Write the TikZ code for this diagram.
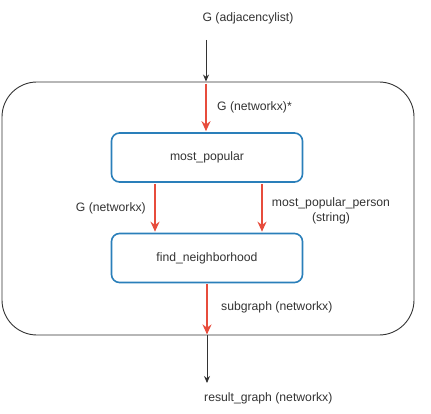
\documentclass[tikz,border=0pt]{standalone}
\usepackage{fontspec}
\setmainfont{Liberation Sans}
\usetikzlibrary{positioning}
\usetikzlibrary{arrows.meta}

\definecolor{flowred}{HTML}{E74C3C}
\definecolor{boxblue}{HTML}{2A7FBA}
\definecolor{txtgray}{HTML}{333333}

\tikzset{
  func/.style={draw=boxblue, line width=1.6pt, rounded corners=8pt,
    minimum width=191pt, minimum height=49pt, text=txtgray,
    font=\fontsize{12.2}{14}\selectfont},
  redflow/.style={draw=flowred, line width=1.8pt, -{Stealth[length=10pt,width=9pt]}},
  ioflow/.style={draw=txtgray, line width=0.9pt, -{Stealth[length=7pt,width=6pt]}},
  lbl/.style={text=txtgray, inner sep=0pt, font=\fontsize{12.2}{14.5}\selectfont}
}

\begin{document}
\begin{tikzpicture}[x=1pt,y=-1pt]
\useasboundingbox (0,0) rectangle (431,414);

% the pipeline box
\node[draw=txtgray, line width=0.9pt, rounded corners=35pt,
  minimum width=412pt, minimum height=253pt] (pipe) at (208,208.5) {};

\node[func] (pop) at (207,157.5) {most\_popular};
\node[func] (hood) at (207,258) {find\_neighborhood};

% input and output
\node[lbl] (gin) at (248,18) {G (adjacencylist)};
\coordinate (gtop) at (206,40);
\node[lbl, anchor=west] (gres) at (204,398) {result\_graph (networkx)};
\coordinate (gout) at (207,383);

\draw[ioflow] (gtop) -- (gtop |- pipe.north);
\draw[redflow, shorten <=2pt, shorten >=1pt] (gtop |- pipe.north) -- (gtop |- pop.north);
\node[lbl, anchor=west] (gnx) at (217,107) {G (networkx)*};

\draw[redflow, shorten <=1pt, shorten >=1pt] ([xshift=-52pt]pop.south) -- ([xshift=-52pt]hood.north);
\draw[redflow, shorten <=1pt, shorten >=1pt] ([xshift=55pt]pop.south) -- ([xshift=55pt]hood.north);
\node[lbl, anchor=east] (gleft) at (146,208) {G (networkx)};
\node[lbl, align=center] (person) at (331,211) {most\_popular\_person\\(string)};

\draw[redflow, shorten <=1pt, shorten >=1pt] (hood.south) -- (hood.south |- pipe.south);
\draw[ioflow] (hood.south |- pipe.south) -- (gout);
\node[lbl, anchor=west] (sub) at (221,307) {subgraph (networkx)};

\end{tikzpicture}
\end{document}
